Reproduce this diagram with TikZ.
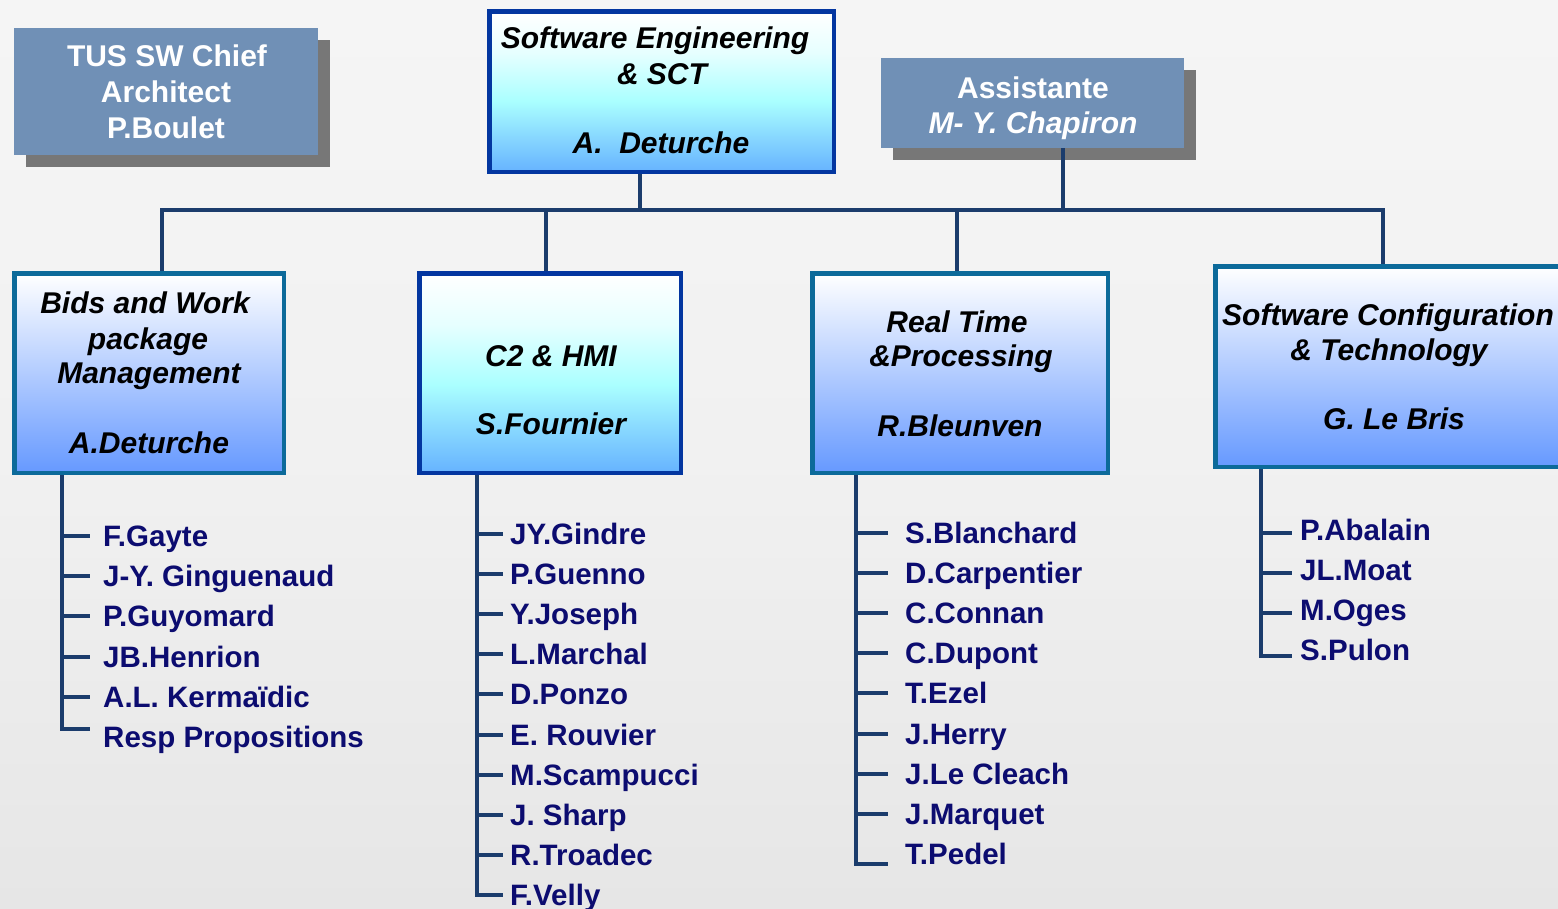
\documentclass[tikz,border=0pt]{standalone}
\usepackage{fontspec}
\setmainfont{Liberation Sans}
\usetikzlibrary{shadows}

\definecolor{bgtop}{HTML}{F5F5F5}
\definecolor{bgmid}{HTML}{F1F1F1}
\definecolor{bgbot}{HTML}{E6E6E6}
\definecolor{wirecol}{HTML}{1B3C6C}
\definecolor{namecol}{HTML}{0C0C70}
\definecolor{slate}{HTML}{7090B6}
\definecolor{shadowgrey}{HTML}{777777}
\definecolor{royal}{HTML}{0336A0}
\definecolor{frameteal}{HTML}{0C6A9A}
\definecolor{lowblue}{HTML}{6699FF}
\definecolor{skybot}{HTML}{66B3FF}
\definecolor{skylow}{HTML}{88D8FF}
\definecolor{skymid}{HTML}{AAFFFF}
\definecolor{skyhigh}{HTML}{E6FFFF}

% white top, cyan band, light blue bottom
\pgfdeclareverticalshading{skyfade}{100bp}{color(0bp)=(skybot); color(25bp)=(skybot);
  color(36bp)=(skylow); color(47bp)=(skymid); color(62bp)=(skyhigh);
  color(75bp)=(white); color(100bp)=(white)}

% page backdrop: light at the top, a little darker at the bottom
\pgfdeclareverticalshading{backdrop}{100bp}{color(0bp)=(bgbot); color(25bp)=(bgbot);
  color(50bp)=(bgmid); color(75bp)=(bgtop); color(100bp)=(bgtop)}

\tikzset{
  wire/.style={draw=wirecol, line width=4pt},
  unit/.style={draw=frameteal, line width=4.5pt, top color=white, bottom color=lowblue, inner sep=0pt},
  skyunit/.style={draw=royal, line width=4.5pt, shade, shading=skyfade, inner sep=0pt},
  plate/.style={fill=slate, inner sep=0pt,
    drop shadow={shadow xshift=12pt, shadow yshift=-12pt, fill=shadowgrey, opacity=1}},
  head/.style={font=\fontsize{30}{36}\selectfont\bfseries\itshape, text=black,
    text height=21.5pt, text depth=0pt, inner sep=0pt},
  platetext/.style={font=\fontsize{30}{36}\selectfont\bfseries, text=white,
    text height=21.5pt, text depth=0pt, inner sep=0pt},
  item/.style={font=\fontsize{29.5}{35}\selectfont\bfseries, text=namecol, anchor=west,
    text height=21pt, text depth=0pt, inner sep=0pt},
}

\begin{document}
\begin{tikzpicture}[x=1pt, y=-1pt]
  \useasboundingbox (0,0) rectangle (1558,908);
  \shade[shading=backdrop] (0,0) rectangle (1558,908);

  % ---- junction points of the tree ----
  \coordinate (j0) at (640,210);
  \coordinate (ja) at (1063,210);
  \coordinate (d1) at (162,210);
  \coordinate (d2) at (546,210);
  \coordinate (d3) at (957,210);
  \coordinate (d4) at (1383,210);
  \coordinate (s1) at (62,475);
  \coordinate (s2) at (477,475);
  \coordinate (s3) at (856,475);
  \coordinate (s4) at (1261,469);

  % ---- boxes ----
  \node[plate, minimum width=304pt, minimum height=127pt] (tus) at (166,91.5) {};
  \node[plate, minimum width=303pt, minimum height=90pt] (asst) at (1032.5,103) {};
  \node[skyunit, minimum width=344.5pt, minimum height=160.5pt] (top) at (661.5,91.5) {};
  \node[unit, minimum width=269.5pt, minimum height=199.5pt] (b1) at (149,373) {};
  \node[skyunit, minimum width=261.5pt, minimum height=199.5pt] (b2) at (550,373) {};
  \node[unit, minimum width=295.5pt, minimum height=199.5pt] (b3) at (960,373) {};
  \node[unit, minimum width=349.5pt, minimum height=200.5pt] (b4) at (1390,366.5) {};

  % ---- connectors ----
  \draw[wire] (top.south -| j0) -- (j0);
  \draw[wire] (asst.south -| ja) -- (ja);
  \draw[wire] (b1.north -| d1) |- (d4) -- (b4.north -| d4);
  \draw[wire] (d2) -- (b2.north -| d2);
  \draw[wire] (d3) -- (b3.north -| d3);

  % ---- box texts ----
  \node[platetext] (tus1) at (167,56) {TUS SW Chief};
  \node[platetext] (tus2) at (166,92) {Architect};
  \node[platetext] (tus3) at (166,128) {P.Boulet};

  \node[platetext] (asst1) at (1033,88) {Assistante};
  \node[platetext, font=\fontsize{30}{36}\selectfont\bfseries\itshape] (asst2) at (1033,123) {M- Y. Chapiron};

  \node[head] (top1) at (655,38) {Software Engineering};
  \node[head] (top2) at (662,74) {\& SCT};
  \node[head] (top3) at (661,143) {A.\ \ Deturche};

  \node[head] (b1a) at (145,303) {Bids and Work};
  \node[head] (b1b) at (148,339) {package};
  \node[head] (b1c) at (149,373) {Management};
  \node[head] (b1d) at (149,443) {A.Deturche};

  \node[head] (b2a) at (551,356) {C2 \& HMI};
  \node[head] (b2b) at (551,424) {S.Fournier};

  \node[head] (b3a) at (957,322) {Real Time};
  \node[head] (b3b) at (961,356) {\&Processing};
  \node[head] (b3c) at (960,426) {R.Bleunven};

  \node[head] (b4a) at (1388,315) {Software Configuration};
  \node[head] (b4b) at (1389,350) {\& Technology};
  \node[head] (b4c) at (1394,419) {G. Le Bris};

  % ---- staff lists ----
  \foreach \who [count=\i] in {F.Gayte, J-Y. Ginguenaud, P.Guyomard, JB.Henrion, A.L. Kermaïdic, Resp Propositions}
    \node[item] (a\i) at (103,{536+40.2*(\i-1)}) {\who};
  \foreach \who [count=\i] in {JY.Gindre, P.Guenno, Y.Joseph, L.Marchal, D.Ponzo, E. Rouvier, M.Scampucci, J. Sharp, R.Troadec, F.Velly}
    \node[item] (c\i) at (510,{534+40.1*(\i-1)}) {\who};
  \foreach \who [count=\i] in {S.Blanchard, D.Carpentier, C.Connan, C.Dupont, T.Ezel, J.Herry, J.Le Cleach, J.Marquet, T.Pedel}
    \node[item] (r\i) at (905,{533+40.1*(\i-1)}) {\who};
  \foreach \who [count=\i] in {P.Abalain, JL.Moat, M.Oges, S.Pulon}
    \node[item] (g\i) at (1300,{530+40*(\i-1)}) {\who};

  % spines and ticks
  \draw[wire] (b1.south -| s1) |- ([xshift=-13pt,yshift=8pt]a6.west);
  \foreach \i in {1,...,5}
    \draw[wire] (a\i.west -| s1) -- ([xshift=-13pt]a\i.west);

  \draw[wire] (b2.south -| s2) |- ([xshift=-7pt]c10.west);
  \foreach \i in {1,...,9}
    \draw[wire] (c\i.west -| s2) -- ([xshift=-7pt]c\i.west);

  \draw[wire] (b3.south -| s3) |- ([xshift=-17pt,yshift=-10pt]r9.west);
  \foreach \i in {1,...,8}
    \draw[wire] (r\i.west -| s3) -- ([xshift=-17pt]r\i.west);

  \draw[wire] (b4.south -| s4) |- ([xshift=-8pt,yshift=-6pt]g4.west);
  \foreach \i in {1,...,3}
    \draw[wire] ([yshift=-3pt]g\i.west -| s4) -- ([xshift=-8pt,yshift=-3pt]g\i.west);
\end{tikzpicture}
\end{document}
